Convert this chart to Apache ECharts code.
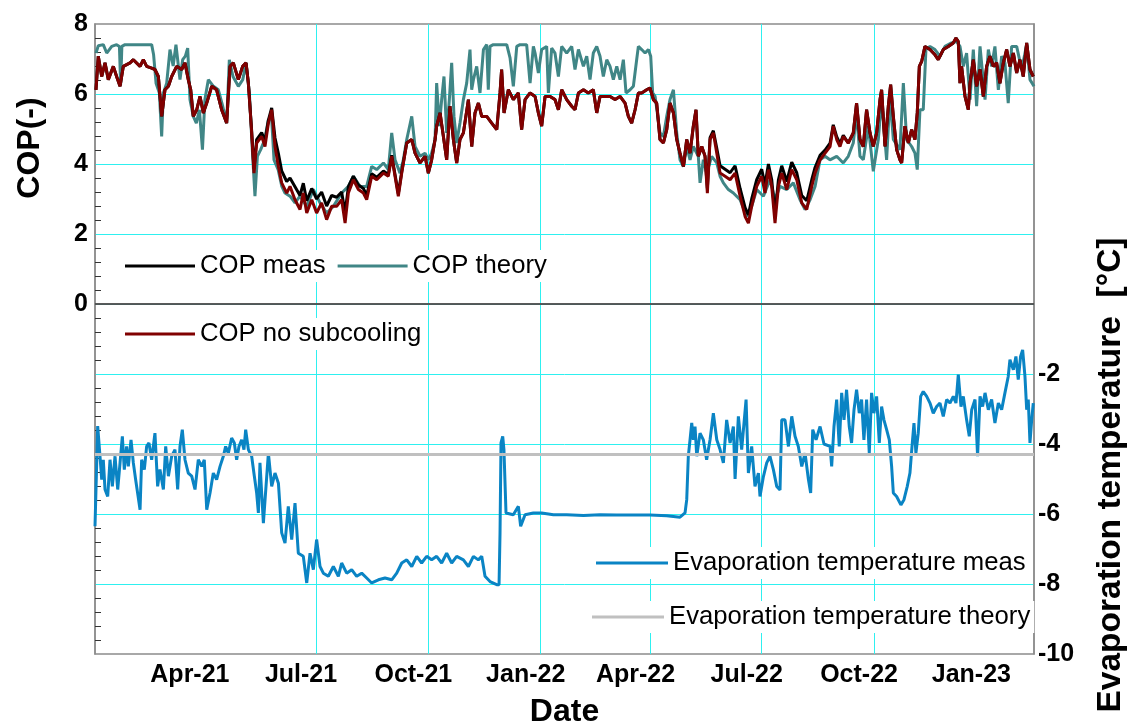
<!DOCTYPE html>
<html><head><meta charset="utf-8">
<script src="https://cdn.jsdelivr.net/npm/echarts@6/dist/echarts.min.js"></script>
<style>html,body{margin:0;padding:0;background:#fff}#chart{width:1131px;height:727px}</style>
</head><body><div id="chart"></div>
<script>
// x values: days since 2021-01-01
const monthTickDays = [90, 181, 273, 365, 455, 546, 638, 730];
const monthTickLabels = ['Apr-21', 'Jul-21', 'Oct-21', 'Jan-22', 'Apr-22', 'Jul-22', 'Oct-22', 'Jan-23'];

const copTheory = [[0.8,7.17],[2.7,7.38],[6.8,7.41],[9.6,7.17],[13.7,7.36],[17.7,7.41],[20,7.36],[21,6.27],[22,7.36],[24.6,7.41],[35,7.41],[46.4,7.41],[48,7.12],[50,6.31],[52.7,6.03],[54.6,4.79],[56,6.03],[58.7,6.31],[61.4,7.27],[64,6.8],[66.3,7.41],[68.3,6.8],[69.6,6.41],[71.8,6.98],[74,7.08],[75.9,7.31],[77.8,5.84],[80.5,5.36],[83,5.17],[85.5,5.55],[88,4.41],[90,5.84],[92.8,6.41],[97,6.22],[101,6.12],[104.6,5.65],[107.8,5.17],[110,6.98],[113,6.5],[117.4,6.22],[121,6.41],[123.7,6.89],[126.4,6.03],[129,4.31],[131,3.08],[133,4.22],[135.7,4.41],[139,4.7],[142,5.27],[144.7,5.27],[146.6,4.12],[150,3.84],[153,3.36],[155.6,3.17],[159.7,3.08],[163.8,2.89],
[167.9,3.08],[173.4,2.79],[178.8,3.27],[184.3,2.89],[189.7,2.6],[195.2,2.79],[202,3.17],[207.5,3.36],[211.6,3.65],[217,3.36],[222.5,3.36],[226.6,3.93],[230.7,3.84],[236.2,4.03],[240.2,3.84],[243,4.89],[245.7,4.12],[249.8,3.74],[252.5,4.12],[255.3,4.7],[259.4,5.36],[262.1,4.5],[266.2,4.22],[270.3,4.31],[273,4.12],[275.7,4.31],[278.5,4.7],[279.8,6.31],[282,5.08],[283.9,5.84],[285.8,6.5],[288,4.89],[290.2,5.84],[292.1,6.89],[294,5.36],[296.2,4.6],[298.9,5.17],[301.7,5.84],[304.4,6.31],[307.1,7.27],[308.5,6.12],[309.9,6.41],[312.6,6.79],[315.3,6.03],[318.1,7.27],[320.8,7.41],[322.1,6.12],[323.5,7.36],[326.2,7.41],[337.2,7.41],[339.9,7.03],[342.6,6.22],[345.4,7.36],[348.1,7.41],[353.5,7.41],[356.3,6.31],[359,7.36],[360.4,7.17],[363.1,6.6],[365.8,7.27],[369.9,7.36],[371.3,6.03],[374,7.31],[376.7,7.17],[379.5,6.5],[382.2,7.36],[386.3,7.17],[390.4,7.36],[393.1,6.7],[395.9,7.27],[400,6.79],[402.7,7.08],[405.4,6.41],[408.1,7.17],[410.9,7.36],[413.6,7.08],[416.3,6.5],[419.1,6.98],[421.8,6.79],[424.5,6.41],[427.3,6.79],[430,6.41],[432.7,6.98],[434.9,6.03],[438.2,6.12],[440.9,6.22],[443.6,6.98],[445,7.36],[447.7,7.27],[450.5,7.17],[453.2,7.27],[455.1,7.08],[456.7,6.03],[458.7,5.93],[462.7,4.89],[465.5,4.79],[468.2,5.36],[470.9,5.84],[473.7,6.12],[476.4,4.89],[479.1,4.12],[481.9,3.93],[484.6,4.5],[487.3,4.12],[490,4.5],[494.1,4.22],[495.5,3.46],[498.2,4.12],[501,3.74],[505,4.22],[509.2,4.03],[511.9,3.65],[514.6,3.46],[518.7,3.27],[522.8,3.17],[528.3,2.98],[533.7,2.5],[537.8,2.79],[541.9,3.27],[547.4,3.08],[552.8,3.55],[556.9,2.98],[561,3.36],[566.5,3.27],[571.9,3.46],[577.4,2.98],[581.5,2.7],[585.6,2.98],[589.7,3.36],[593.8,4.12],[597.9,4.22],
[601.9,4.12],[607.4,4.22],[612.8,4.03],[616.9,4.22],[621,4.6],[623.7,5.46],[626.5,4.22],[629.2,4.12],[633.3,5.08],[637.4,3.79],[641.5,4.7],[644.2,5.84],[648.3,4.12],[651,5.93],[653.8,4.7],[659.2,4.41],[662,6.31],[664.7,4.7],[668.8,4.5],[671.5,4.31],[673.4,3.84],[675.6,5.55],[678.3,5.55],[680.5,7.27],[683.8,7.36],[687.9,7.27],[692,7.08],[696.1,7.36],[701.5,7.46],[705.6,7.5],[708.4,7.36],[711.1,6.79],[713.8,7.17],[716.6,5.84],[719.3,7.27],[722,5.65],[724.8,7.36],[728.9,5.84],[731.6,7.27],[734.3,6.79],[737,7.36],[739.8,6.12],[742.5,7.08],[745.2,6.89],[747.9,5.74],[750.7,7.36],[754.8,7.36],[758.9,6.7],[763,7.41],[765.7,6.41],[769,6.22]];

const copNoSub = [[0.8,6.12],[2.7,7.08],[5.5,6.5],[8.2,6.89],[10.9,6.41],[15,6.79],[17.7,6.5],[20.5,6.22],[23.2,6.79],[28.7,6.89],[31.4,6.98],[36.9,6.79],[39.6,6.98],[42.3,6.79],[46.4,6.74],[49.1,6.7],[51.9,6.5],[54.6,5.36],[57.3,6.12],[60.1,6.22],[62.8,6.5],[66.9,6.79],[71,6.7],[73.7,6.89],[76.4,6.41],[78.4,6.12],[80.5,5.36],[83.3,5.55],[86,5.93],[88.7,5.46],[91.5,5.74],[95.6,6.22],[99.6,6.12],[103.7,5.55],[107.8,5.17],[110.6,6.79],[113.3,6.89],[117.4,6.41],[120.9,6.79],[123.7,6.89],[125.6,6.31],[128.3,4.89],[130.2,3.74],[132.4,4.6],[136.5,4.79],[139.2,4.5],[142,5.17],[144.7,5.55],[147.4,4.5],[150.2,3.93],[152.9,3.46],[157,3.17],[159.7,3.36],[163.8,2.98],[167.9,2.7],
[170.6,3.17],[173.4,2.6],[177.5,2.98],[181.5,2.6],[185.6,2.89],[189.7,2.41],[193.8,2.79],[197.9,2.79],[202,2.98],[204.8,2.31],[207.5,3.17],[211.6,3.55],[215.7,3.27],[219.8,3.17],[222.5,2.98],[226.6,3.65],[230.7,3.55],[236.2,3.74],[240.2,3.65],[243,4.22],[245.7,3.65],[248.4,3.08],[251.2,3.74],[255.3,4.6],[259.4,4.7],[262.1,4.31],[266.2,4.03],[270.3,4.22],[273,3.74],[275.7,4.12],[278.5,4.7],[279.8,5.08],[282.6,5.46],[285.3,4.79],[288,4.12],[290.7,5.65],[293.5,4.7],[296.2,4.03],[298.9,4.7],[301.7,4.89],[305.8,5.84],[308.5,4.5],[311.2,5.46],[314,5.74],[316.7,5.36],[320.8,5.36],[324.9,5.17],[329,4.98],[331.7,6.03],[333,6.7],[335,5.46],[338.5,6.12],[342.6,5.84],[346.7,6.03],[349.4,4.98],[352.2,5.84],[356.3,6.03],[360.4,5.93],[363.1,5.46],[365.8,5.08],[368.6,5.93],[372.7,5.93],[376.7,5.84],[379.5,5.55],[382.2,6.12],[386.3,5.84],[390.4,5.65],[393.1,5.55],[395.9,6.03],[400,6.12],[404,6.03],[408.1,6.12],[410.9,5.46],[413.6,5.93],[417.7,5.93],[421.8,5.93],[425.9,5.84],[430,5.93],[434.1,5.74],[436.8,5.36],[439.5,5.17],[442.3,5.55],[445,6.03],[447.7,6.03],[451.8,6.12],[454.5,6.17],[457.3,5.84],[460,5.74],[462.7,4.7],[465.5,4.6],[468.2,4.98],[470.9,5.74],[473.7,5.46],[476.4,4.7],[479.1,4.31],[481.9,3.93],[484.6,4.7],[487.3,4.31],[490,5.08],[492.2,5.55],[494.1,4.22],[496.9,4.5],[499.6,4.22],[501.5,3.17],[503.7,4.7],[506.4,4.89],[509.2,4.31],[511.9,3.74],[516,3.65],[520.1,3.55],[524.2,3.74],[528.3,3.08],[532.4,2.5],[535.1,2.31],[537.8,2.79],[541.9,3.36],[546,3.65],[548.7,3.17],[551.5,3.84],[554.2,3.36],[556.9,2.31],[559.7,3.36],[562.4,3.74],[566.5,3.27],[570.6,3.84],[574.7,3.55],[578.8,2.89],[582.9,2.7],[587,3.36],[589.7,3.74],[593.8,4.12],[597.9,4.31],
[602,4.5],[604.6,5.08],[607.4,4.7],[610.1,4.5],[612.8,4.79],[616.9,4.6],[621,4.89],[623.7,5.74],[626.5,4.7],[629.2,4.5],[631.9,5.55],[634.7,4.89],[637.4,4.5],[640.1,4.89],[642.9,5.84],[644.2,6.12],[647,4.5],[649.7,5.65],[651.6,6.27],[653.8,5.36],[656.5,4.41],[659.2,4.12],[660.6,4.03],[663.3,5.08],[666.1,4.6],[668.8,4.98],[671.5,4.7],[673.4,5.46],[675.1,6.79],[677,6.93],[679.7,7.36],[683.8,7.27],[687.9,7.12],[690.6,6.98],[694.7,7.27],[698.8,7.36],[702.9,7.46],[705.1,7.6],[707,7.5],[708.4,6.31],[709.7,6.79],[712.5,5.93],[715.2,5.55],[716.6,6.31],[719.3,6.98],[722,6.22],[724.8,6.7],[727.5,5.93],[730.2,6.79],[732.9,7.08],[735.7,6.79],[738.4,6.89],[741.1,6.31],[743.9,6.89],[746.6,7.27],[749.3,6.79],[752.1,7.17],[754.8,6.6],[757.5,6.98],[760.2,6.5],[763,7.46],[765.7,6.7],[768.4,6.5]];

const copMeas = [[0.8,6.12],[2.7,7.08],[5.5,6.5],[8.2,6.89],[10.9,6.41],[15,6.79],[17.7,6.5],[20.5,6.22],[23.2,6.79],[28.7,6.89],[31.4,6.98],[36.9,6.79],[39.6,6.98],[42.3,6.79],[46.4,6.74],[49.1,6.7],[51.9,6.5],[54.6,5.36],[57.3,6.12],[60.1,6.22],[62.8,6.5],[66.9,6.79],[71,6.7],[73.7,6.89],[76.4,6.41],[78.4,6.12],[80.5,5.36],[83.3,5.55],[86,5.93],[88.7,5.46],[91.5,5.74],[95.6,6.22],[99.6,6.12],[103.7,5.55],[107.8,5.17],[110.6,6.79],[113.3,6.89],[117.4,6.41],[120.9,6.79],[123.7,6.89],[125.6,6.31],
[128.3,4.95],[130.2,3.85],[132.4,4.7],[136.5,4.9],[139.2,4.65],[142,5.25],[144.7,5.6],[147.4,4.75],[150.2,4.3],[152.9,3.8],[157,3.5],[159.7,3.6],[163.8,3.35],[167.9,3.1],[170.6,3.45],[173.4,2.95],[177.5,3.3],[181.5,3.0],[185.6,3.2],[189.7,2.8],[193.8,3.1],[197.9,3.05],[202,3.2],[204.8,2.6],[207.5,3.35],[211.6,3.65],[215.7,3.4],[219.8,3.3],[222.5,3.1],[226.6,3.72],[230.7,3.62],[236.2,3.8],[240.2,3.7],[243,4.25],[245.7,3.7],[248.4,3.15],[251.2,3.78],
[255.3,4.6],[259.4,4.7],[262.1,4.31],[266.2,4.03],[270.3,4.22],[273,3.74],[275.7,4.12],[278.5,4.7],[279.8,5.08],[282.6,5.46],[285.3,4.79],[288,4.12],[290.7,5.65],[293.5,4.7],[296.2,4.03],[298.9,4.7],[301.7,4.89],[305.8,5.84],[308.5,4.5],[311.2,5.46],[314,5.74],[316.7,5.36],[320.8,5.36],[324.9,5.17],[329,4.98],[331.7,6.03],[333,6.7],[335,5.46],[338.5,6.12],[342.6,5.84],[346.7,6.03],[349.4,4.98],[352.2,5.84],[356.3,6.03],[360.4,5.93],[363.1,5.46],[365.8,5.08],[368.6,5.93],[372.7,5.93],[376.7,5.84],[379.5,5.55],[382.2,6.12],[386.3,5.84],[390.4,5.65],[393.1,5.55],[395.9,6.03],[400,6.12],[404,6.03],[408.1,6.12],[410.9,5.46],[413.6,5.93],[417.7,5.93],[421.8,5.93],[425.9,5.84],[430,5.93],[434.1,5.74],[436.8,5.36],[439.5,5.17],[442.3,5.55],[445,6.03],[447.7,6.03],[451.8,6.12],[454.5,6.17],[457.3,5.84],[460,5.74],[462.7,4.7],[465.5,4.6],[468.2,4.98],[470.9,5.74],[473.7,5.46],[476.4,4.7],[479.1,4.31],[481.9,3.93],[484.6,4.7],[487.3,4.31],[490,5.08],[492.2,5.55],[494.1,4.22],[496.9,4.5],[499.6,4.22],
[501.5,3.3],[503.7,4.75],[506.4,4.95],[509.2,4.45],[511.9,3.95],[516,3.85],[520.1,3.75],[524.2,3.95],[528.3,3.3],[532.4,2.75],[535.1,2.55],[537.8,3.0],[541.9,3.55],[546,3.85],[548.7,3.4],[551.5,4.0],[554.2,3.55],[556.9,2.55],[559.7,3.55],[562.4,3.95],[566.5,3.5],[570.6,4.05],[574.7,3.75],[578.8,3.1],[582.9,2.95],[587,3.55],[589.7,3.9],[593.8,4.25],[597.9,4.4],[602,4.6],[604.6,5.12],[607.4,4.78],[610.1,4.58],[612.8,4.82],
[616.9,4.6],[621,4.89],[623.7,5.74],[626.5,4.7],[629.2,4.5],[631.9,5.55],[634.7,4.89],[637.4,4.5],[640.1,4.89],[642.9,5.84],[644.2,6.12],[647,4.5],[649.7,5.65],[651.6,6.27],[653.8,5.36],[656.5,4.41],[659.2,4.12],[660.6,4.03],[663.3,5.08],[666.1,4.6],[668.8,4.98],[671.5,4.7],[673.4,5.46],[675.1,6.79],[677,6.93],[679.7,7.36],[683.8,7.27],[687.9,7.12],[690.6,6.98],[694.7,7.27],[698.8,7.36],[702.9,7.46],[705.1,7.6],[707,7.5],[708.4,6.31],[709.7,6.79],[712.5,5.93],[715.2,5.55],[716.6,6.31],[719.3,6.98],[722,6.22],[724.8,6.7],[727.5,5.93],[730.2,6.79],[732.9,7.08],[735.7,6.79],[738.4,6.89],[741.1,6.31],[743.9,6.89],[746.6,7.27],[749.3,6.79],[752.1,7.17],[754.8,6.6],[757.5,6.98],[760.2,6.5],[763,7.46],[765.7,6.7],[768.4,6.5]];

const evapMeas = [[0,-6.35],[2.2,-3.49],[4.1,-4.35],[5.5,-5.02],[6.8,-4.45],[8.2,-5.3],[10.4,-5.5],[12.3,-4.45],[14.2,-5.21],[16.4,-4.35],[18.6,-5.3],[20.5,-4.54],[22.4,-3.78],[24,-4.73],[25.9,-4.07],[27.3,-4.64],[29.5,-3.88],[31.4,-4.54],[33.3,-5.02],[34.9,-5.4],[36.9,-5.88],[38.2,-4.45],[40.4,-4.73],[42.3,-4.07],[44.2,-3.97],[46.4,-4.45],[49.1,-3.69],[51.3,-5.21],[53.2,-4.73],[56,-5.3],[57.9,-4.07],[60.1,-4.92],[62.8,-4.35],[65.5,-4.16],[67.7,-5.3],[69.6,-4.07],[71.5,-3.59],[73.7,-4.45],[76.4,-4.83],[79.2,-4.92],[81.9,-5.3],[84.6,-4.45],[87.4,-4.64],[89.5,-4.45],[91.5,-5.88],[94.2,-5.4],[96.9,-4.83],[99.6,-5.02],[102.4,-4.64],[105.1,-4.35],[107,-4.07],[109.2,-4.26],[111.9,-3.83],[114.1,-3.97],[116,-4.45],[117.9,-4.07],[120.1,-3.88],[122,-4.16],[123.4,-3.59],[125.6,-4.16],[128.3,-4.35],[130.5,-4.92],[132.4,-5.4],[133.8,-5.97],[135.1,-4.54],[137.9,-6.26],[142,-4.26],[144.7,-5.21],[147.4,-4.83],[150.2,-5.12],[152.9,-6.54],[155.6,-6.83],[158.3,-5.78],[161.1,-6.73],[163.8,-5.69],[166.5,-7.12],
[170.6,-7.21],[173.4,-7.97],[176.1,-7.12],[178.8,-7.59],[181.5,-6.73],[184.3,-7.5],[187,-7.69],[191.1,-7.78],[195.2,-7.5],[199.3,-7.78],[202,-7.4],[206.1,-7.69],[210.2,-7.59],[214.3,-7.78],[218.4,-7.69],[222.5,-7.83],[226.6,-7.97],[232.1,-7.88],[237.5,-7.83],[243,-7.88],[247.1,-7.69],[251.2,-7.4],[255.3,-7.31],[259.4,-7.5],[263.5,-7.21],[267.5,-7.4],[271.6,-7.21],[275.7,-7.31],[279.8,-7.21],[283.9,-7.4],[288,-7.12],[292.1,-7.4],[296.2,-7.21],[301.7,-7.31],[305.8,-7.5],[309.9,-7.21],[313.9,-7.31],[316.7,-7.21],[319.4,-7.78],[323.5,-7.93],[329,-8.02],[330.9,-8.02],[331.7,-6.54],[332.5,-3.97],[333.9,-3.78],[334.9,-4.16],[336.6,-5.97],[342.6,-6.02],[346.7,-5.78],[348.6,-6.35],[352.2,-6.02],[359,-5.97],[365.8,-5.97],[375.4,-6.02],[386.3,-6.02],[400,-6.04],[413.6,-6.02],[427.3,-6.03],[440.9,-6.03],[454.5,-6.03],[468.2,-6.05],[479.1,-6.09],[483.2,-5.97],[484.6,-5.59],[485.9,-4.35],[487.3,-3.88],[488.7,-3.4],[490,-3.88],[491.4,-3.5],[492.8,-4.35],[495.5,-3.69],[498.2,-3.88],[500.9,-4.45],[503.7,-3.88],[506.4,-3.12],[509.2,-3.88],[511.9,-4.16],[514.6,-4.54],[517.3,-3.31],[520.1,-3.97],[522.8,-3.5],[524.2,-5.0],[526.9,-3.21],[529.6,-4.16],[533.2,-2.73],[535.1,-4.83],[537.8,-4.07],[540.5,-5.21],[543.3,-4.83],[544.6,-5.5],[547.4,-4.93],[550.1,-4.54],[552.8,-4.35],[555.6,-4.74],[558.3,-5.21],[561,-5.31],[562.4,-3.31],[565.1,-3.31],[567.9,-4.07],[570.6,-3.21],[573.3,-3.78],[576,-4.07],[578.8,-4.64],[581.5,-4.26],[584.2,-5.0],[586.1,-5.4],[587.8,-3.59],[590.5,-3.88],[593.8,-3.5],[597,-4.0],
[602,-4.07],[603.3,-4.64],[605.2,-3.5],[607.4,-2.73],[609.5,-4.07],[611.5,-2.54],[613.4,-3.31],[615.5,-2.45],[617.7,-3.5],[619.6,-3.97],[621.6,-3.02],[623.7,-2.45],[625.9,-3.12],[627.8,-2.73],[629.7,-3.88],[631.9,-2.73],[634.1,-4.26],[636,-2.54],[637.9,-3.12],[640.1,-2.64],[642.3,-3.97],[644.2,-2.93],[646.1,-3.31],[648.3,-3.59],[650.5,-3.88],[652.4,-4.64],[653.8,-5.4],[656.5,-5.5],[660,-5.74],[662.5,-5.59],[665.2,-5.21],[667.4,-4.83],[669.1,-4.07],[670.7,-3.4],[672.3,-4.26],[674.2,-3.69],[676.2,-2.64],[678.3,-2.5],[681.1,-2.64],[683.8,-2.83],[686.5,-3.12],[689.3,-2.93],[692,-2.83],[694.7,-3.21],[697.5,-2.73],[700.2,-2.83],[702.9,-2.64],[705.1,-2.83],[707,-2.02],[709.2,-2.93],[711.1,-2.64],[713.8,-3.31],[716,-3.78],[718,-3.02],[720.7,-2.73],[722.8,-4.35],[724.8,-2.64],[726.9,-2.93],[728.9,-2.54],[731.6,-3.02],[734.3,-2.73],[737,-3.4],[739.8,-2.83],[742.5,-3.02],[745.2,-2.54],[747.9,-2.07],[749.3,-1.59],[752.1,-1.88],[754.2,-1.5],[756.1,-2.16],[758,-1.5],[759.7,-1.31],[761.6,-2.07],[763,-3.02],[764.3,-2.73],[765.7,-3.97],[767.1,-3.31],[768.4,-2.83]];

const evapTheory = [[0, -4.3], [769, -4.3]];

const FONT = '"Liberation Sans", Arial, sans-serif';
const GRIDC = '#2ef0f0';

const chart = echarts.init(document.getElementById('chart'), null, {renderer: 'canvas'});
const legendBase = {
  orient: 'horizontal', icon: 'rect', itemWidth: 70, itemHeight: 3, itemGap: 12,
  backgroundColor: '#ffffff', padding: [2, 4, 2, 4], selectedMode: false,
  itemStyle: {borderWidth: 0},
  textStyle: {fontSize: 25.7, color: '#000', fontFamily: FONT, lineHeight: 28, padding: [0, 0, 0, 0]}
};
chart.setOption({
  animation: false,
  backgroundColor: '#ffffff',
  textStyle: {fontFamily: FONT},
  grid: {left: 95, right: 97, top: 24, bottom: 73, show: true, borderColor: '#8c8c8c', borderWidth: 1.5, containLabel: false, outerBoundsMode: 'none'},
  legend: [
    Object.assign({}, legendBase, {left: 121, top: 250, data: ['COP meas', 'COP theory']}),
    Object.assign({}, legendBase, {left: 121, top: 318, data: ['COP no subcooling']}),
    Object.assign({}, legendBase, {left: 592, top: 547, itemWidth: 72, data: ['Evaporation temperature meas']}),
    Object.assign({}, legendBase, {left: 588, top: 601, itemWidth: 72, data: ['Evaporation temperature theory']})
  ],
  xAxis: {
    type: 'value', min: 0, max: 769,
    name: 'Date', nameLocation: 'middle', nameGap: 42,
    nameTextStyle: {fontSize: 32, fontWeight: 'bold', color: '#000', fontFamily: FONT},
    axisLine: {show: true, lineStyle: {color: '#8c8c8c', width: 1.5}},
    axisTick: {show: false, customValues: monthTickDays},
    axisLabel: {
      customValues: monthTickDays, fontSize: 25, fontWeight: 'bold', color: '#000', fontFamily: FONT,
      margin: 9, padding: [0, 30, 0, 0],
      formatter: function (v) { const i = monthTickDays.indexOf(v); return i >= 0 ? monthTickLabels[i] : ''; }
    },
    splitLine: {show: true, showMinLine: false, showMaxLine: false, lineStyle: {color: GRIDC, width: 1}}
  },
  yAxis: [
    {
      type: 'value', min: -10, max: 8, interval: 2, position: 'left',
      axisLine: {show: true, lineStyle: {color: '#8c8c8c', width: 1.5}},
      axisTick: {show: false, inside: true},
      minorTick: {show: true, splitNumber: 5, length: 6, lineStyle: {color: '#333', width: 1}},
      axisLabel: {fontSize: 25, fontWeight: 'bold', color: '#000', fontFamily: FONT, margin: 7, showMaxLabel: true, showMinLabel: true,
        formatter: function (v) { return v >= 0 ? String(v) : ''; }},
      splitLine: {show: true, showMinLine: false, showMaxLine: false, lineStyle: {color: GRIDC, width: 1}}
    },
    {
      type: 'value', min: -10, max: 8, interval: 2, position: 'right',
      axisLine: {show: true, lineStyle: {color: '#8c8c8c', width: 1.5}},
      axisTick: {show: false},
      axisLabel: {fontSize: 25, fontWeight: 'bold', color: '#000', fontFamily: FONT, margin: 4, showMinLabel: true,
        formatter: function (v) { return v <= -2 ? String(v) : ''; }},
      splitLine: {show: false}
    }
  ],
  graphic: [
    {type: 'text', x: 30, y: 148, rotation: Math.PI / 2,
      style: {text: 'COP(-)', font: 'bold 32px ' + FONT, fill: '#000', align: 'center', verticalAlign: 'middle'}},
    {type: 'text', x: 1111, y: 475, rotation: Math.PI / 2,
      style: {text: 'Evaporation temperature  [°C]', font: 'bold 33.5px ' + FONT, fill: '#000', align: 'center', verticalAlign: 'middle'}}
  ],
  series: [
    {name: 'COP theory', type: 'line', yAxisIndex: 0, data: copTheory, showSymbol: false, symbol: 'none',
      color: '#408686', lineStyle: {width: 3, color: '#408686'}, z: 3},
    {name: 'COP meas', type: 'line', yAxisIndex: 0, data: copMeas, showSymbol: false, symbol: 'none',
      color: '#000000', lineStyle: {width: 3, color: '#000000'}, z: 4,
      markLine: {silent: true, symbol: ['none', 'none'], label: {show: false},
        lineStyle: {color: '#404040', width: 1.5, type: 'solid'}, data: [{yAxis: 0}]}},
    {name: 'COP no subcooling', type: 'line', yAxisIndex: 0, data: copNoSub, showSymbol: false, symbol: 'none',
      color: '#800000', lineStyle: {width: 3, color: '#800000'}, z: 5},
    {name: 'Evaporation temperature meas', type: 'line', yAxisIndex: 1, data: evapMeas, showSymbol: false, symbol: 'none',
      color: '#0a84c4', lineStyle: {width: 3, color: '#0a84c4'}, z: 3},
    {name: 'Evaporation temperature theory', type: 'line', yAxisIndex: 1, data: evapTheory, showSymbol: false, symbol: 'none',
      color: '#c0c0c0', lineStyle: {width: 3, color: '#c0c0c0'}, z: 4}
  ]
});
</script>
</body></html>
